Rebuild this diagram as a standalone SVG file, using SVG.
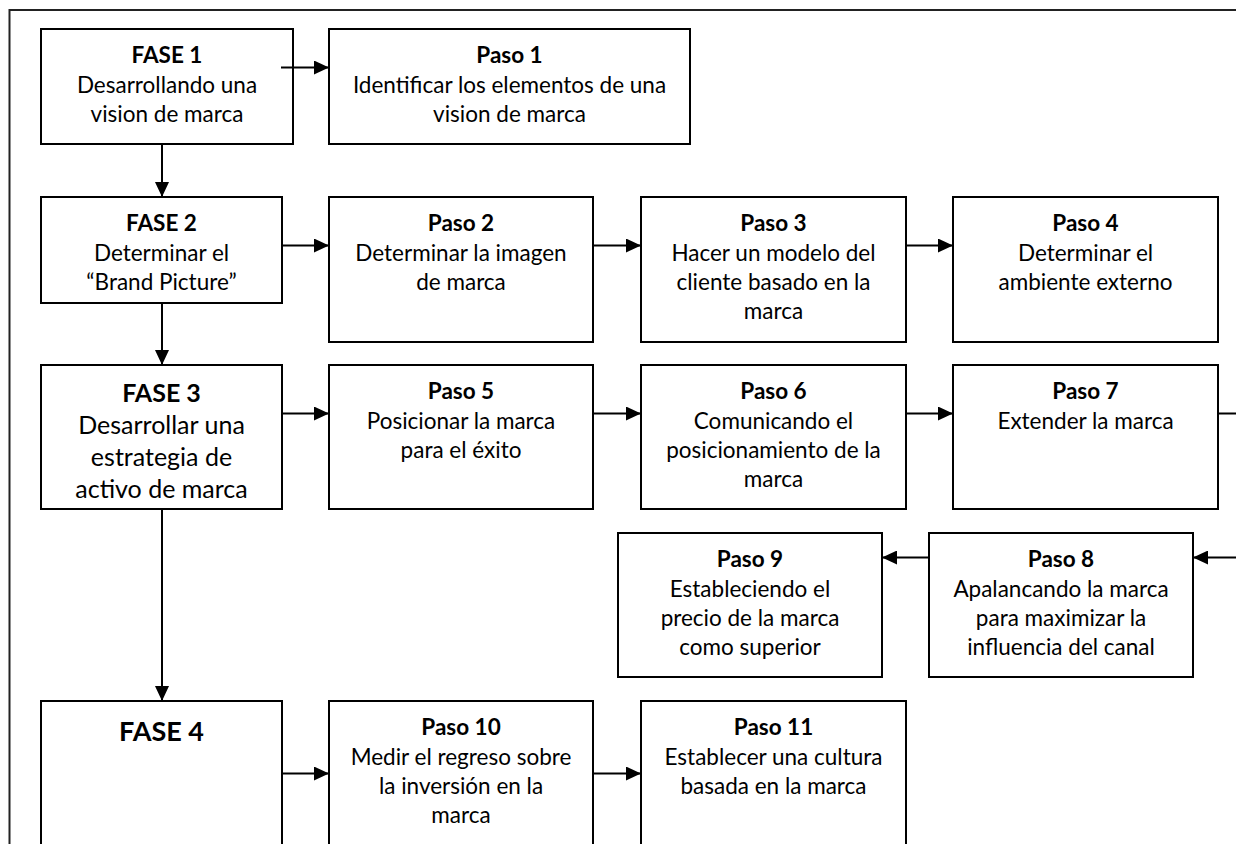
<svg xmlns="http://www.w3.org/2000/svg" width="1236" height="844" viewBox="0 0 1236 844">
<defs>
<marker id="ah" markerUnits="userSpaceOnUse" markerWidth="15" markerHeight="14" refX="15" refY="7" orient="auto">
<path d="M0,0 L15,7 L0,14 z" fill="#000"/>
</marker>
<style>
.box{fill:#fff;stroke:#000;stroke-width:2}
.frame{fill:none;stroke:#222;stroke-width:2}
.c{fill:none;stroke:#000;stroke-width:2;marker-end:url(#ah)}
text{font-family:Lato,"Open Sans","Liberation Sans",sans-serif;font-size:22.5px;fill:#000;text-anchor:middle}
.b{font-weight:bold}
.big{font-size:25px}
.f4{font-size:27px;font-weight:bold}
</style>
</defs>
<rect class="frame" x="9.5" y="10" width="1260" height="860"/>
<g id="fase1">
<rect class="box" x="41" y="29" width="252" height="115"/>
<text x="167" y="63" class="b">FASE 1</text>
<text x="167" y="92.5">Desarrollando una</text>
<text x="167" y="121.5">vision de marca</text>
</g>
<g id="paso1">
<rect class="box" x="329" y="29" width="361" height="115"/>
<text x="509.5" y="63" class="b">Paso 1</text>
<text x="509.5" y="92.5">Identificar los elementos de una</text>
<text x="509.5" y="121.5">vision de marca</text>
</g>
<g id="fase2">
<rect class="box" x="41" y="197" width="241" height="106"/>
<text x="161.5" y="231" class="b">FASE 2</text>
<text x="161.5" y="260.5">Determinar el</text>
<text x="161.5" y="289.5">“Brand Picture”</text>
</g>
<g id="paso2">
<rect class="box" x="329" y="197" width="264" height="145"/>
<text x="461" y="231" class="b">Paso 2</text>
<text x="461" y="260.5">Determinar la imagen</text>
<text x="461" y="289.5">de marca</text>
</g>
<g id="paso3">
<rect class="box" x="641" y="197" width="265" height="145"/>
<text x="773.5" y="231" class="b">Paso 3</text>
<text x="773.5" y="260.5">Hacer un modelo del</text>
<text x="773.5" y="289.5">cliente basado en la</text>
<text x="773.5" y="318.5">marca</text>
</g>
<g id="paso4">
<rect class="box" x="953" y="197" width="265" height="145"/>
<text x="1085.5" y="231" class="b">Paso 4</text>
<text x="1085.5" y="260.5">Determinar el</text>
<text x="1085.5" y="289.5">ambiente externo</text>
</g>
<g id="fase3">
<rect class="box" x="41" y="365" width="241" height="144"/>
<text x="161.5" y="401.5" class="b big">FASE 3</text>
<text x="161.5" y="433.5" class="big">Desarrollar una</text>
<text x="161.5" y="465.5" class="big">estrategia de</text>
<text x="161.5" y="497.5" class="big">activo de marca</text>
</g>
<g id="paso5">
<rect class="box" x="329" y="365" width="264" height="144"/>
<text x="461" y="399" class="b">Paso 5</text>
<text x="461" y="428.5">Posicionar la marca</text>
<text x="461" y="457.5">para el éxito</text>
</g>
<g id="paso6">
<rect class="box" x="641" y="365" width="265" height="144"/>
<text x="773.5" y="399" class="b">Paso 6</text>
<text x="773.5" y="428.5">Comunicando el</text>
<text x="773.5" y="457.5">posicionamiento de la</text>
<text x="773.5" y="486.5">marca</text>
</g>
<g id="paso7">
<rect class="box" x="953" y="365" width="265" height="144"/>
<text x="1085.5" y="399" class="b">Paso 7</text>
<text x="1085.5" y="428.5">Extender la marca</text>
</g>
<g id="paso8">
<rect class="box" x="929" y="533" width="264" height="144"/>
<text x="1061" y="567" class="b">Paso 8</text>
<text x="1061" y="596.5">Apalancando la marca</text>
<text x="1061" y="625.5">para maximizar la</text>
<text x="1061" y="654.5">influencia del canal</text>
</g>
<g id="paso9">
<rect class="box" x="618" y="533" width="264" height="144"/>
<text x="750" y="567" class="b">Paso 9</text>
<text x="750" y="596.5">Estableciendo el</text>
<text x="750" y="625.5">precio de la marca</text>
<text x="750" y="654.5">como superior</text>
</g>
<g id="fase4">
<rect class="box" x="41" y="701" width="241" height="170"/>
<text x="161.5" y="740.5" class="f4">FASE 4</text>
</g>
<g id="paso10">
<rect class="box" x="329" y="701" width="264" height="170"/>
<text x="461" y="735" class="b">Paso 10</text>
<text x="461" y="764.5">Medir el regreso sobre</text>
<text x="461" y="793.5">la inversión en la</text>
<text x="461" y="822.5">marca</text>
</g>
<g id="paso11">
<rect class="box" x="641" y="701" width="265" height="170"/>
<text x="773.5" y="735" class="b">Paso 11</text>
<text x="773.5" y="764.5">Establecer una cultura</text>
<text x="773.5" y="793.5">basada en la marca</text>
</g>
<g id="connectors">
<path class="c" d="M281,67.5 H329"/>
<path class="c" d="M162,144 V197"/>
<path class="c" d="M282,245.5 H329"/>
<path class="c" d="M593,245.5 H641"/>
<path class="c" d="M906,245.5 H953"/>
<path class="c" d="M162,303 V365"/>
<path class="c" d="M282,413.5 H329"/>
<path class="c" d="M593,413.5 H641"/>
<path class="c" d="M906,413.5 H953"/>
<path class="c" d="M1218,413.5 H1250 V557.5 H1193"/>
<path class="c" d="M929,557.5 H882"/>
<path class="c" d="M162,509 V701"/>
<path class="c" d="M282,773.5 H329"/>
<path class="c" d="M593,773.5 H641"/>
</g>
</svg>
